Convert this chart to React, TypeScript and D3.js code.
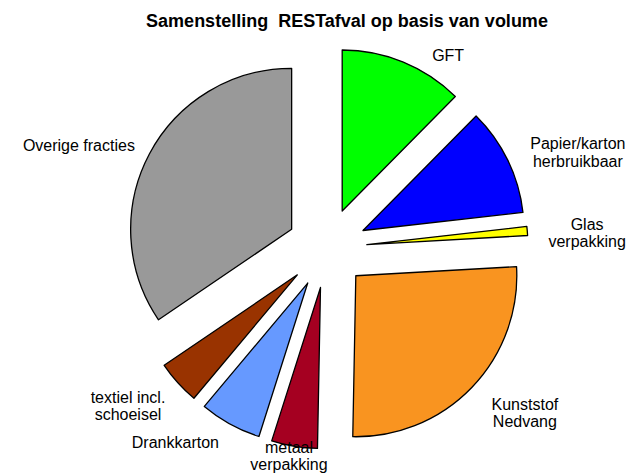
import React from "react";
import * as d3 from "d3";

const categories = [
  ["GFT"],
  ["Papier/karton", "herbruikbaar"],
  ["Glas", "verpakking"],
  ["Kunststof", "Nedvang"],
  ["metaal", "verpakking"],
  ["Drankkarton"],
  ["textiel incl.", "schoeisel"],
  ["Overige fracties"],
];
const values = [12.4, 10.8, 0.9, 26.2, 4.6, 6.2, 4.4, 34.5];
const colors = ["#00FF00", "#0000FF", "#FFFF00", "#F99420", "#A50021", "#6699FF", "#993300", "#999999"];
const title = "Samenstelling  RESTafval op basis van volume";

// layout (not data)
const labelNudge: [number, number][] = [
  [30, 35], [35, 6], [21, 2], [25, -4.5], [1, -32], [-36, -10], [-21, -6], [-36, 15],
];

export default function App() {
  const W = 630, H = 475;
  const cx = 327, cy = 248, r = 161, explode = 40, labelR = 240;
  const pie = d3.pie<number>().sort(null).value((d) => d);
  const arcs = pie(values);
  const arc = d3.arc<d3.PieArcDatum<number>>().innerRadius(0).outerRadius(r);
  const font = "'Liberation Sans', Arial, sans-serif";
  return (
    <svg width={W} height={H} style={{ position: "absolute", left: 0, top: 0, background: "#fff" }}>
      <text x={347} y={27} textAnchor="middle" fontFamily={font} fontWeight="bold" fontSize={18} style={{ whiteSpace: "pre" }}>
        {title}
      </text>
      <g transform={`translate(${cx},${cy})`}>
        {arcs.map((a, i) => {
          const mid = (a.startAngle + a.endAngle) / 2;
          const dx = explode * Math.sin(mid);
          const dy = -explode * Math.cos(mid);
          return (
            <path
              key={i}
              d={arc(a) || ""}
              transform={`translate(${dx},${dy})`}
              fill={colors[i]}
              stroke="#000"
              strokeWidth={1.3}
              strokeLinejoin="round"
            />
          );
        })}
        {arcs.map((a, i) => {
          const mid = (a.startAngle + a.endAngle) / 2;
          const lx = labelR * Math.sin(mid) + labelNudge[i][0];
          const ly = -labelR * Math.cos(mid) + labelNudge[i][1];
          return (
            <text key={"l" + i} x={lx} y={ly} textAnchor="middle" fontFamily={font} fontSize={16} fill="#000">
              {categories[i].map((line, j) => (
                <tspan key={j} x={lx} dy={j === 0 ? 0 : 17.5}>
                  {line}
                </tspan>
              ))}
            </text>
          );
        })}
      </g>
    </svg>
  );
}
